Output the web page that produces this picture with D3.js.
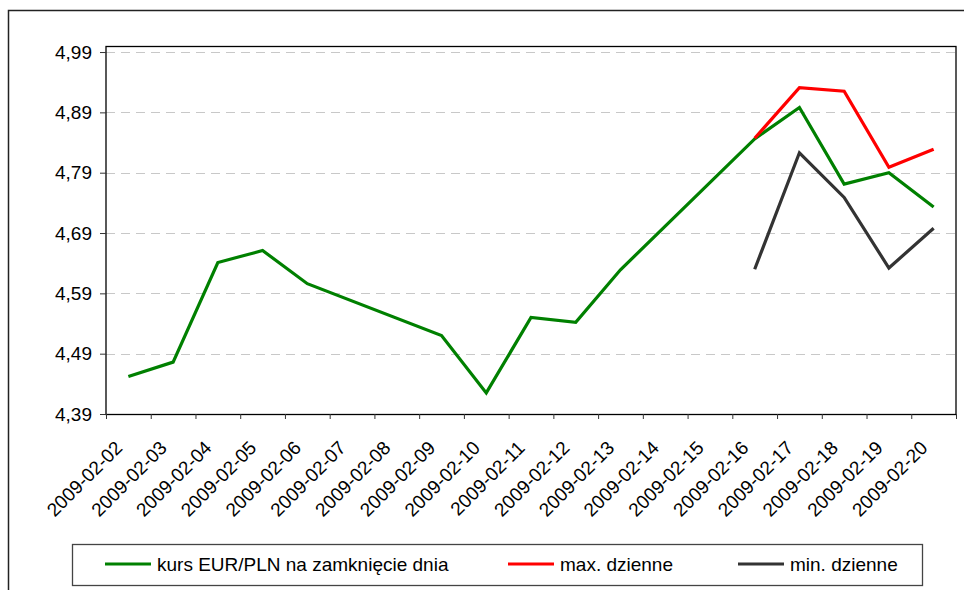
<!DOCTYPE html>
<html>
    <head>
        <style>
            body { margin: 0; background: #fff; }
            svg { display: block; font-family: "Liberation Sans", Arial, sans-serif; }
        </style>
        <script src="https://cdnjs.cloudflare.com/ajax/libs/d3/7.8.5/d3.min.js"></script>
    </head>
    <body>
        <div id="chart"></div>
        <script>
            // daily EUR/PLN, Feb 2009 (weekends have no quote)
            const dates = ["2009-02-02","2009-02-03","2009-02-04","2009-02-05","2009-02-06","2009-02-07",
                "2009-02-08","2009-02-09","2009-02-10","2009-02-11","2009-02-12","2009-02-13","2009-02-14",
                "2009-02-15","2009-02-16","2009-02-17","2009-02-18","2009-02-19","2009-02-20"];
            const closeValues = [4.452, 4.476, 4.641, 4.661, 4.606, null, null, 4.520, 4.425, 4.550,
                4.542, 4.629, null, null, 4.846, 4.898, 4.771, 4.790, 4.733];
            const maxValues = [null, null, null, null, null, null, null, null, null, null,
                null, null, null, null, 4.847, 4.931, 4.925, 4.799, 4.829];
            const minValues = [null, null, null, null, null, null, null, null, null, null,
                null, null, null, null, 4.630, 4.823, 4.749, 4.632, 4.698];
            const yTicks = [4.39, 4.49, 4.59, 4.69, 4.79, 4.89, 4.99];
            const seriesNames = ["kurs EUR/PLN na zamknięcie dnia", "max. dzienne", "min. dzienne"];
            const seriesColors = ["#008000", "#ff0000", "#333333"];

            const w = 964, h = 590;
            const plotLeft = 106, plotRight = 956, plotTop = 46, plotBottom = 414;

            const svg = d3.select("#chart").append("svg")
                .attr("width", w)
                .attr("height", h);

            // outer frame (runs off the right and bottom edge)
            svg.append("rect")
                .attr("x", 8.5).attr("y", 10.5)
                .attr("width", 1000).attr("height", 1000)
                .attr("fill", "none")
                .attr("stroke", "#222")
                .attr("stroke-width", 1.5);

            const x = d3.scaleBand().domain(dates).range([plotLeft, plotRight]);
            const xEdge = d3.scaleLinear().domain([0, dates.length]).range([plotLeft, plotRight]);
            const y = d3.scaleLinear().domain([4.39, 5.0]).range([plotBottom, plotTop]);
            const cx = d => x(d) + x.bandwidth() / 2;

            // grid
            svg.append("g").selectAll("line")
                .data(yTicks.slice(1))
                .enter().append("line")
                .attr("x1", plotLeft).attr("x2", plotRight)
                .attr("y1", d => Math.round(y(d)) + 0.5)
                .attr("y2", d => Math.round(y(d)) + 0.5)
                .attr("stroke", "#c8c8c8")
                .attr("stroke-dasharray", "9,6");

            // plot border
            svg.append("rect")
                .attr("x", plotLeft).attr("y", plotTop + 0.5)
                .attr("width", plotRight - plotLeft).attr("height", plotBottom - plotTop)
                .attr("fill", "none")
                .attr("stroke", "#000")
                .attr("stroke-width", 1.3);

            const yAxis = d3.axisLeft(y)
                .tickValues(yTicks)
                .tickSize(6)
                .tickPadding(8)
                .tickFormat(d => d.toFixed(2).replace(".", ","));
            const gy = svg.append("g")
                .attr("transform", "translate(" + plotLeft + ",0)")
                .call(yAxis);
            gy.select(".domain").remove();
            gy.selectAll("line").attr("stroke", "#333");
            gy.selectAll("text")
                .attr("fill", "#000")
                .style("font-size", "19px")
                .style("font-family", "Liberation Sans, Arial, sans-serif");

            const xAxis = d3.axisBottom(xEdge)
                .tickValues(d3.range(dates.length + 1))
                .tickSize(5)
                .tickFormat("");
            const gx = svg.append("g")
                .attr("transform", "translate(0," + plotBottom + ")")
                .call(xAxis);
            gx.select(".domain").remove();
            gx.selectAll("line").attr("stroke", "#333");

            svg.append("g").selectAll("text")
                .data(dates)
                .enter().append("text")
                .attr("transform", d => "translate(" + (cx(d) - 5) + "," + (plotBottom + 35) + ") rotate(-45)")
                .attr("text-anchor", "end")
                .style("font-size", "19px")
                .text(d => d);

            // lines - missing days are skipped, the line joins the quoted days
            const line = d3.line()
                .x(d => cx(d.date))
                .y(d => y(d.value));
            [closeValues, maxValues, minValues].forEach((vals, i) => {
                const pts = dates.map((d, j) => ({date: d, value: vals[j]}))
                    .filter(p => p.value !== null);
                svg.append("path")
                    .datum(pts)
                    .attr("d", line)
                    .attr("fill", "none")
                    .attr("stroke", seriesColors[i])
                    .attr("stroke-width", 3.2)
                    .attr("stroke-linejoin", "miter");
            });

            // legend
            const legend = svg.append("g");
            legend.append("rect")
                .attr("x", 72.5).attr("y", 544.5)
                .attr("width", 850).attr("height", 41)
                .attr("fill", "#fff")
                .attr("stroke", "#444")
                .attr("stroke-width", 1.3);
            const legendX = [105, 508, 738];
            seriesNames.forEach((name, i) => {
                legend.append("line")
                    .attr("x1", legendX[i]).attr("x2", legendX[i] + 46)
                    .attr("y1", 564).attr("y2", 564)
                    .attr("stroke", seriesColors[i])
                    .attr("stroke-width", 3.2);
                legend.append("text")
                    .attr("x", legendX[i] + 52).attr("y", 564)
                    .attr("dy", "0.35em")
                    .style("font-size", "19px")
                    .text(name);
            });
        </script>
    </body>
</html>
